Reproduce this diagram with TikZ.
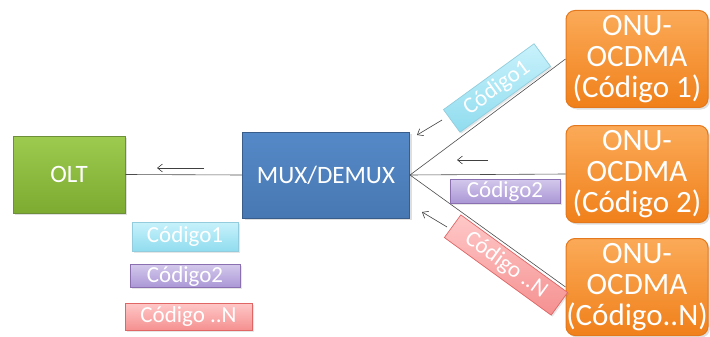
\documentclass[tikz,border=0pt]{standalone}
\usepackage{fontspec}
\setmainfont{Carlito}
\usetikzlibrary{arrows.meta,shadows}

\definecolor{oltTop}{HTML}{9CCB50}
\definecolor{oltBot}{HTML}{7DAA30}
\definecolor{oltLine}{HTML}{6E8F3A}
\definecolor{muxTop}{HTML}{5489C7}
\definecolor{muxBot}{HTML}{4878B3}
\definecolor{muxLine}{HTML}{385D8A}
\definecolor{onuTop}{HTML}{FBAA58}
\definecolor{onuBot}{HTML}{F0801A}
\definecolor{onuLine}{HTML}{E3781C}
\definecolor{cyTop}{HTML}{C8F2FB}
\definecolor{cyBot}{HTML}{90DCEF}
\definecolor{cyLine}{HTML}{93CDDD}
\definecolor{puTop}{HTML}{D3C8EC}
\definecolor{puBot}{HTML}{AA97D5}
\definecolor{puLine}{HTML}{8A70B0}
\definecolor{piTop}{HTML}{FFC8C8}
\definecolor{piBot}{HTML}{F59090}
\definecolor{piLine}{HTML}{E06666}

\begin{document}
\begin{tikzpicture}[x=1pt,y=-1pt,
  box/.style={draw,line width=1pt,text=white,align=center,inner sep=0pt,
    font=\fontsize{25}{31}\selectfont,
    drop shadow={opacity=0.25,shadow xshift=2pt,shadow yshift=-2pt}},
  oltbox/.style={box,draw=oltLine,top color=oltTop,bottom color=oltBot,
    minimum width=112pt,minimum height=77pt},
  muxbox/.style={box,draw=muxLine,top color=muxTop,bottom color=muxBot,
    minimum width=167pt,minimum height=86pt},
  onubox/.style={box,draw=onuLine,top color=onuTop,bottom color=onuBot,
    font=\fontsize{31}{31}\selectfont,
    rounded corners=9pt,minimum width=142pt,minimum height=97pt},
  tag/.style={draw,line width=0.7pt,text=white,inner sep=1pt,
    font=\fontsize{23}{23}\selectfont,
    drop shadow={opacity=0.2,shadow xshift=1.5pt,shadow yshift=-1.5pt}},
  cytag/.style={tag,draw=cyLine,top color=cyTop,bottom color=cyBot},
  putag/.style={tag,draw=puLine,top color=puTop,bottom color=puBot},
  pitag/.style={tag,draw=piLine,top color=piTop,bottom color=piBot},
  link/.style={draw=black!70,line width=0.6pt},
  flow/.style={draw=black!75,line width=0.6pt,-{Straight Barb[length=5pt,width=8pt]}}]
\useasboundingbox (0,0) rectangle (710,337);

% boxes
\node[oltbox] (olt) at (69,174.5) {OLT};
\node[muxbox] (mux) at (326,175) {MUX/DEMUX};
\node[onubox] (onu1) at (637,59) {ONU-\\OCDMA\\(Código 1)};
\node[onubox] (onu2) at (637,174) {ONU-\\OCDMA\\(Código 2)};
\node[onubox] (onu3) at (637,287) {ONU-\\OCDMA\\(Código..N)};

% fibres
\draw[link] (olt.east) -- (mux.west);
\draw[link] (mux.east) -- (onu1.west);
\draw[link] (mux.east) -- (onu2.west);
\draw[link] (mux.east) -- (onu3.west);

% direction of traffic
\coordinate (f0a) at (204,168); \coordinate (f0b) at (157,168);
\coordinate (f1a) at (442,120); \coordinate (f1b) at (417,135);
\coordinate (f2a) at (488,160); \coordinate (f2b) at (457,160);
\coordinate (f3a) at (447,227); \coordinate (f3b) at (422,212);
\draw[flow] (f0a) -- (f0b);
\draw[flow] (f1a) -- (f1b);
\draw[flow] (f2a) -- (f2b);
\draw[flow] (f3a) -- (f3b);

% codes on the branches
\node[cytag,rotate=36,minimum width=112pt,minimum height=28pt] (c1) at (497,88) {Código1};
\node[putag,minimum width=110pt,minimum height=24pt] (c2) at (505,191) {Código2};
\node[pitag,rotate=-36,minimum width=132pt,minimum height=28pt] (c3) at (506,265) {Código ..N};

% codes at the OLT
\node[cytag,minimum width=106pt,minimum height=29pt] (l1) at (185,236.5) {Código1};
\node[putag,minimum width=110pt,minimum height=23pt] (l2) at (185,276) {Código2};
\node[pitag,minimum width=127pt,minimum height=27pt] (l3) at (188.5,316.5) {Código ..N};
\end{tikzpicture}
\end{document}
